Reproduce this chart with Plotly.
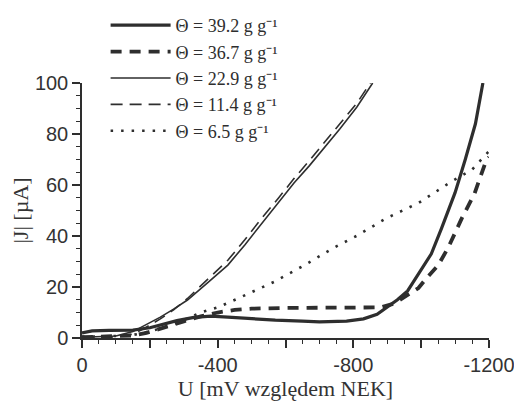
import plotly.graph_objects as go

# potential in mV vs NEK (plotted with reversed axis), current |J| in uA
u_392 = [0, -30, -80, -150, -200, -230, -280, -330, -380, -430, -500, -570, -650, -700,
         -780, -830, -870, -900, -930, -960, -1000, -1030, -1060, -1100, -1130, -1160, -1182]
j_392 = [2.0, 2.8, 3.0, 3.1, 4.0, 5.0, 6.8, 8.1, 8.6, 8.2, 7.5, 7.0, 6.6, 6.3,
         6.6, 7.5, 9.3, 12.0, 15.0, 18.5, 27.0, 33.0, 43.0, 57.0, 70.0, 84.0, 100.0]

u_367 = [0, -50, -100, -150, -190, -230, -260, -300, -350, -400, -450, -500, -600, -700,
         -800, -880, -920, -950, -992, -1016, -1050, -1080, -1120, -1157, -1190, -1200]
j_367 = [0.3, 0.5, 0.6, 1.0, 2.0, 3.5, 4.7, 6.5, 8.5, 10.0, 11.0, 11.5, 11.8, 11.8,
         11.8, 12.0, 13.5, 16.0, 19.6, 23.5, 28.5, 35.5, 47.0, 56.5, 69.0, 71.0]

u_229 = [0, -50, -100, -150, -180, -231, -270, -311, -370, -430, -480, -527, -580, -625,
         -670, -714, -760, -810, -857]
j_229 = [0.3, 0.5, 0.8, 2.5, 4.5, 8.2, 11.3, 14.9, 21.6, 28.6, 36.5, 44.3, 53.0, 60.8,
         67.5, 74.5, 82.0, 90.5, 100.0]

u_114 = [0, -50, -100, -150, -180, -231, -270, -311, -370, -430, -480, -527, -580, -625,
         -670, -714, -760, -810, -850]
j_114 = [0.0, 0.2, 0.4, 1.5, 3.5, 7.5, 11.0, 15.5, 23.0, 30.5, 38.5, 46.5, 55.0, 62.5,
         69.5, 76.5, 84.0, 92.0, 100.0]

u_65 = [0, -50, -100, -150, -200, -250, -300, -350, -400, -468, -566, -655, -744, -809,
        -898, -993, -1085, -1150, -1205]
j_65 = [0.5, 0.6, 0.8, 1.2, 2.5, 4.5, 7.0, 10.0, 12.0, 16.0, 22.0, 28.5, 35.5, 40.0,
        47.0, 53.0, 61.0, 66.0, 74.0]

x_tickvals = [0, -200, -400, -600, -800, -1000, -1200]
x_ticktext = ["0", "", "-400", "", "-800", "", "-1200"]

INK = "#2e2e2e"
SERIF = "Liberation Serif"
SANS = "Liberation Sans"

series = [
    (u_392, j_392, "\u0398 = 39.2 g g\u207b\u00b9", dict(width=3.2, dash="solid")),
    (u_367, j_367, "\u0398 = 36.7 g g\u207b\u00b9", dict(width=3.8, dash="11px,8px")),
    (u_229, j_229, "\u0398 = 22.9 g g\u207b\u00b9", dict(width=1.6, dash="solid")),
    (u_114, j_114, "\u0398 = 11.4 g g\u207b\u00b9", dict(width=1.6, dash="12px,7px")),
    (u_65, j_65, "\u0398 = 6.5 g g\u207b\u00b9", dict(width=2.6, dash="2.5px,8px")),
]

fig = go.Figure()
for u, j, name, line in series:
    fig.add_trace(go.Scatter(x=u, y=j, name=name, mode="lines",
                             line=dict(color=INK, **line)))

# the page body adds an 8px margin, so the figure is sized to fit inside the window
fig.update_layout(
    width=514,
    height=397,
    margin=dict(l=74, r=33, t=75, b=67, autoexpand=False),
    plot_bgcolor="white",
    paper_bgcolor="white",
    showlegend=True,
    legend=dict(
        x=0.058, y=1.298, xanchor="left", yanchor="top",
        font=dict(family=SERIF, size=18, color=INK),
        bgcolor="rgba(0,0,0,0)",
        tracegroupgap=0,
        itemwidth=60,
    ),
)

fig.update_xaxes(
    range=[0, -1200],
    tickmode="array", tickvals=x_tickvals, ticktext=x_ticktext,
    ticks="outside", ticklen=8, tickwidth=1.5, tickcolor=INK,
    minor=dict(tickmode="linear", tick0=0, dtick=50, ticks="outside",
               ticklen=4, tickwidth=1.2, tickcolor=INK),
    showline=True, linecolor=INK, linewidth=1.5,
    showgrid=False, zeroline=False,
    tickfont=dict(family=SANS, size=20, color="#333"),
    title=dict(text="U [mV względem NEK]", standoff=6,
               font=dict(family=SERIF, size=22, color="#333")),
)
fig.update_yaxes(
    range=[0, 100],
    tickmode="linear", tick0=0, dtick=20,
    ticks="outside", ticklen=8, tickwidth=1.5, tickcolor=INK,
    minor=dict(tickmode="linear", tick0=0, dtick=5, ticks="outside",
               ticklen=4, tickwidth=1.2, tickcolor=INK),
    showline=True, linecolor=INK, linewidth=1.5,
    showgrid=False, zeroline=False,
    tickfont=dict(family=SANS, size=20, color="#333"),
    title=dict(text="|J| [µA]", standoff=4,
               font=dict(family=SERIF, size=22, color="#333")),
)

fig.write_html("out.html")
